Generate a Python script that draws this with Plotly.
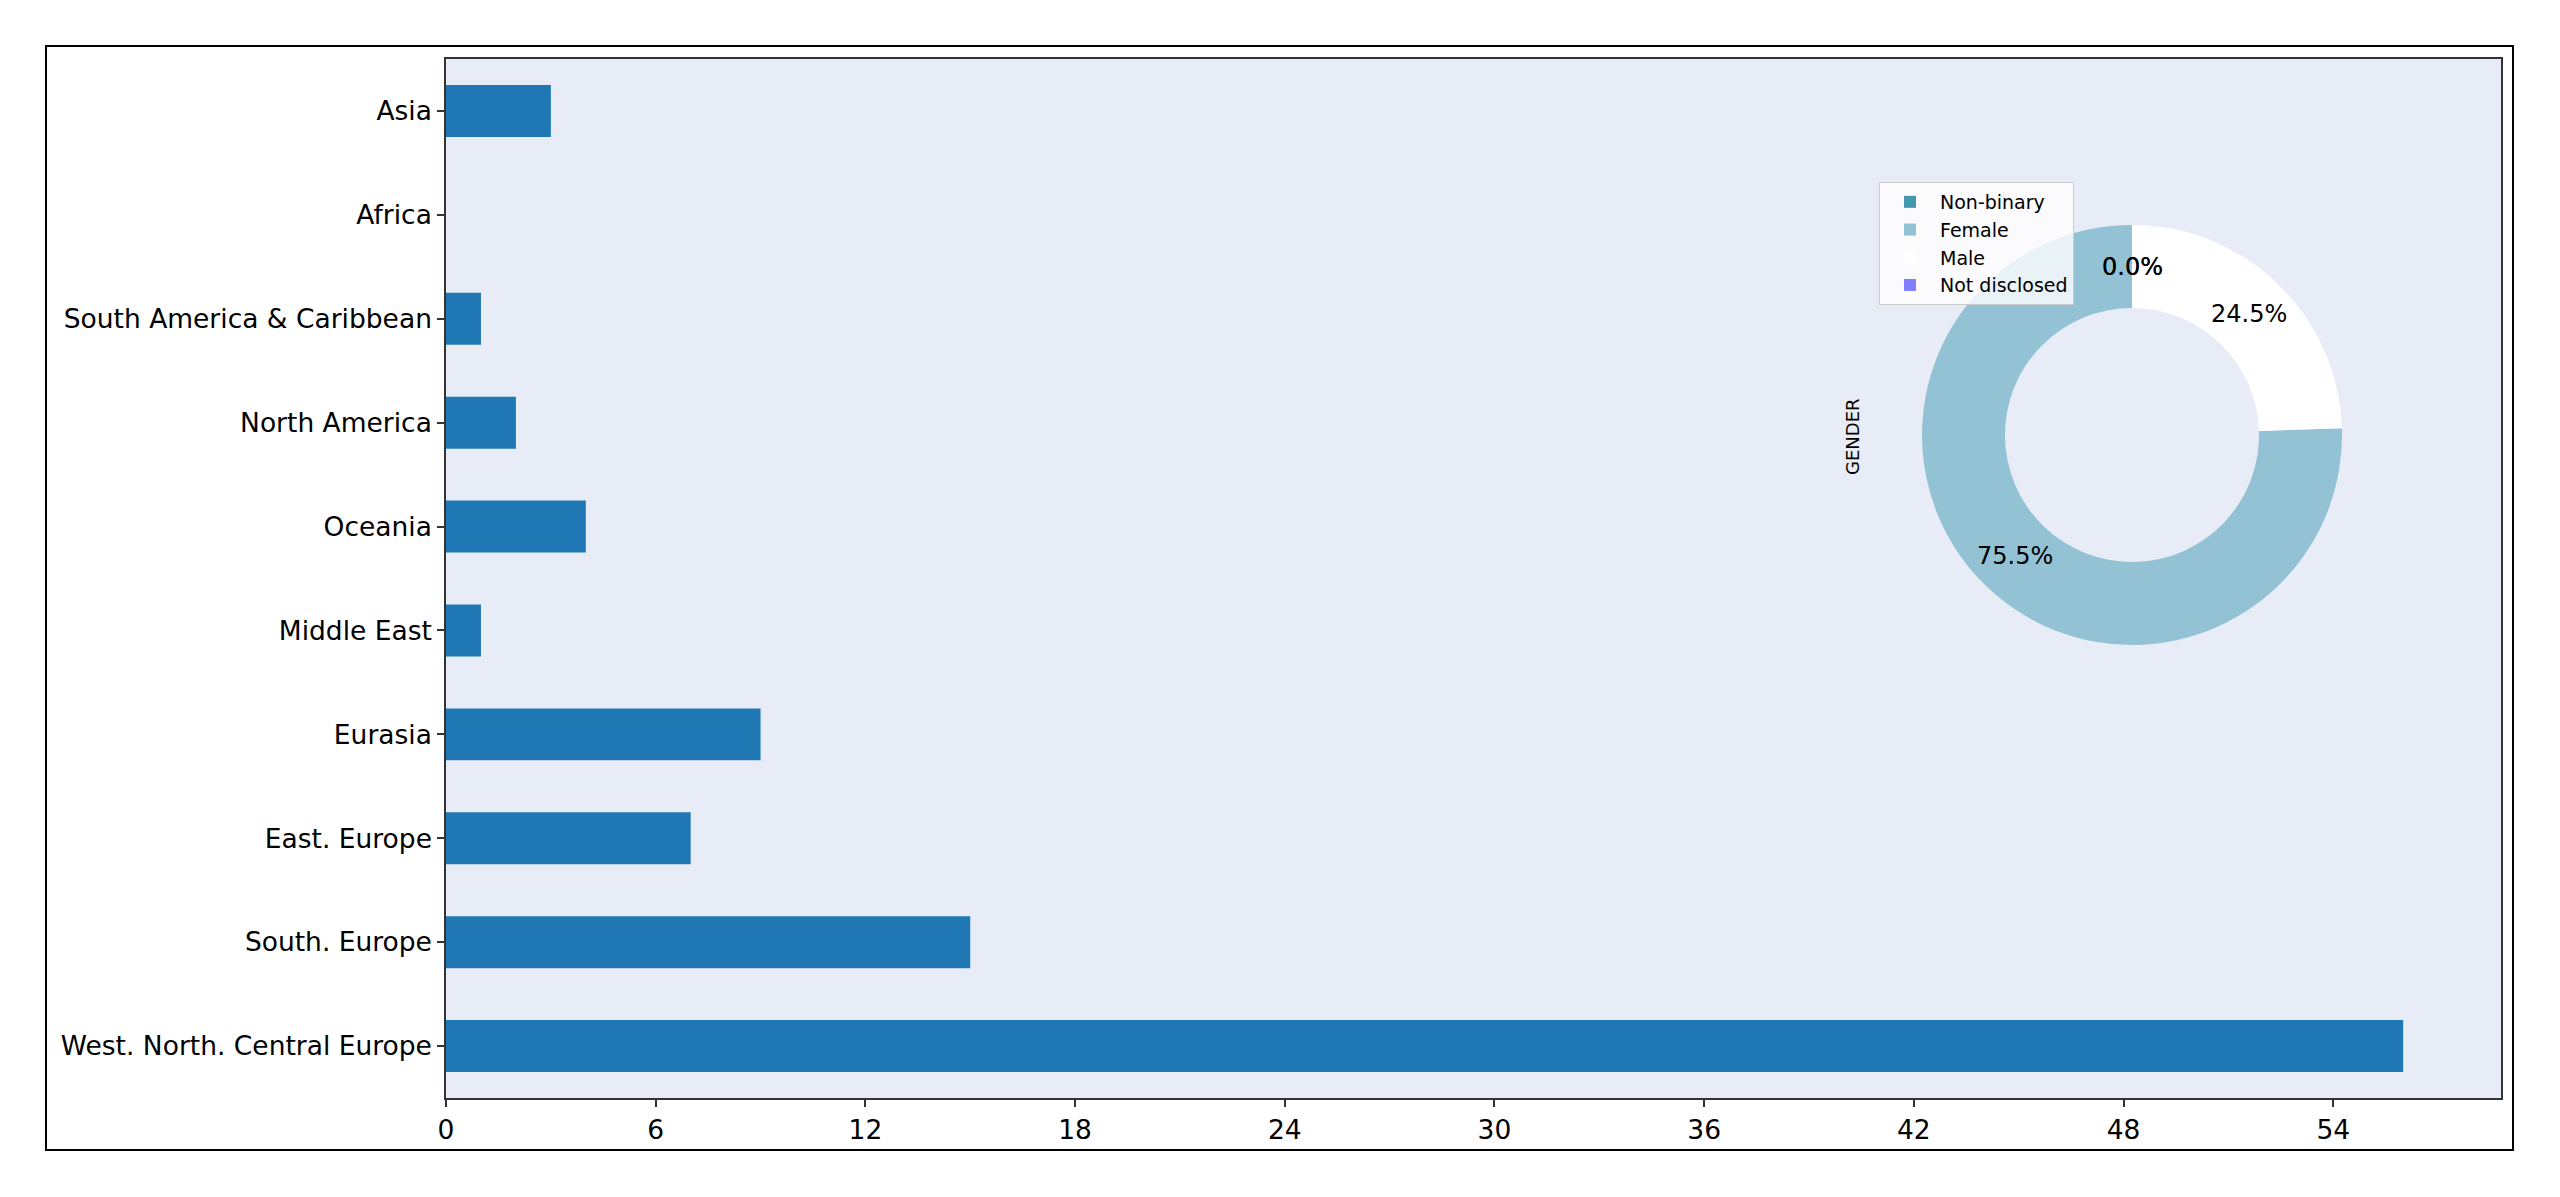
import math
import plotly.graph_objects as go

# ---- data ----
regions = ["West. North. Central Europe", "South. Europe", "East. Europe", "Eurasia",
           "Middle East", "Oceania", "North America", "South America & Caribbean",
           "Africa", "Asia"]
region_counts = [56, 15, 7, 9, 1, 4, 2, 1, 0, 3]

genders = ["Non-binary", "Female", "Male", "Not disclosed"]
gender_counts = [0, 74, 24, 0]
gender_colors = ["#4398b0", "#93c2d4", "#ffffff", "#8080ff"]

x_ticks = [0, 6, 12, 18, 24, 30, 36, 42, 48, 54]

# ---- layout geometry (page pixels, page has an 8px body margin) ----
OFF = 8
W, H = 2560 - 2 * OFF, 1197 - 2 * OFF
PL, PR, PT, PB = 446, 2501, 59, 1098  # plot area in page pixels
ML = PL - OFF
MT = PT - OFF
MR = W - (PR - OFF)
MB = H - (PB - OFF)
PW, PH = PR - PL, PB - PT

def px_x(p):
    return (p - PL) / PW

def px_y(p):
    return (PB - p) / PH

pie_cx, pie_cy, pie_r = 2132, 435, 210
pie_dom_x = [px_x(pie_cx - pie_r), px_x(pie_cx + pie_r)]
pie_dom_y = [px_y(pie_cy + pie_r), px_y(pie_cy - pie_r)]

fig = go.Figure()
fig.add_trace(go.Bar(
    y=regions, x=region_counts, orientation="h",
    marker=dict(color="#1f77b4", line=dict(width=0)),
    width=0.5, showlegend=False,
))

fig.add_trace(go.Pie(
    labels=genders, values=gender_counts, sort=False,
    direction="counterclockwise", rotation=0, hole=0.605,
    marker=dict(colors=gender_colors, line=dict(width=0)),
    textinfo="none", domain=dict(x=pie_dom_x, y=pie_dom_y),
    showlegend=True,
))

# percentage labels at 0.8 of radius (computed from values)
total = sum(gender_counts)
start = 90.0
annos = []
for v in gender_counts:
    frac = v / total
    mid = start + frac * 360 / 2
    start += frac * 360
    rr = 0.8 * pie_r
    ax = pie_cx + rr * math.cos(math.radians(mid))
    ay = pie_cy - rr * math.sin(math.radians(mid))
    annos.append(dict(x=px_x(ax), y=px_y(ay), xref="paper", yref="paper",
                      text=f"{frac*100:.1f}%", showarrow=False,
                      font=dict(size=24, color="black", family="DejaVu Sans"),
                      xanchor="center", yanchor="middle"))

annos.append(dict(x=px_x(1852), y=px_y(437), xref="paper", yref="paper",
                  text="GENDER", textangle=-90, showarrow=False,
                  font=dict(size=18, color="black", family="DejaVu Sans"),
                  xanchor="center", yanchor="middle"))

fig.update_layout(
    width=W, height=H,
    margin=dict(l=ML, r=MR, t=MT, b=MB, pad=0),
    paper_bgcolor="white", plot_bgcolor="#E8ECF6",
    font=dict(family="DejaVu Sans", color="black"),
    bargap=0.5,
    annotations=annos,
    legend=dict(x=px_x(1879), y=px_y(182), xanchor="left", yanchor="top",
                bgcolor="rgba(255,255,255,0.8)", bordercolor="#cccccc", borderwidth=1,
                font=dict(size=19, family="DejaVu Sans", color="black"),
                itemsizing="constant", itemwidth=50),
    xaxis=dict(range=[0, 58.8], tickvals=x_ticks, ticks="outside", ticklen=7,
               tickcolor="#333", tickwidth=1.5, showgrid=False, zeroline=False,
               showline=True, linecolor="#333", linewidth=1.5, mirror=True,
               tickfont=dict(size=26.5)),
    yaxis=dict(range=[-0.5, 9.5], ticks="outside", ticklen=7, tickcolor="#333",
               tickwidth=1.5, showgrid=False, zeroline=False,
               showline=True, linecolor="#333", linewidth=1.5, mirror=True,
               tickfont=dict(size=26.5), categoryorder="array", categoryarray=regions),
    shapes=[dict(type="rect", xref="paper", yref="paper",
                 x0=px_x(46), x1=px_x(2513), y0=px_y(1150), y1=px_y(46),
                 line=dict(color="black", width=2), fillcolor="rgba(0,0,0,0)",
                 layer="below")],
)

fig.write_html("out.html")
